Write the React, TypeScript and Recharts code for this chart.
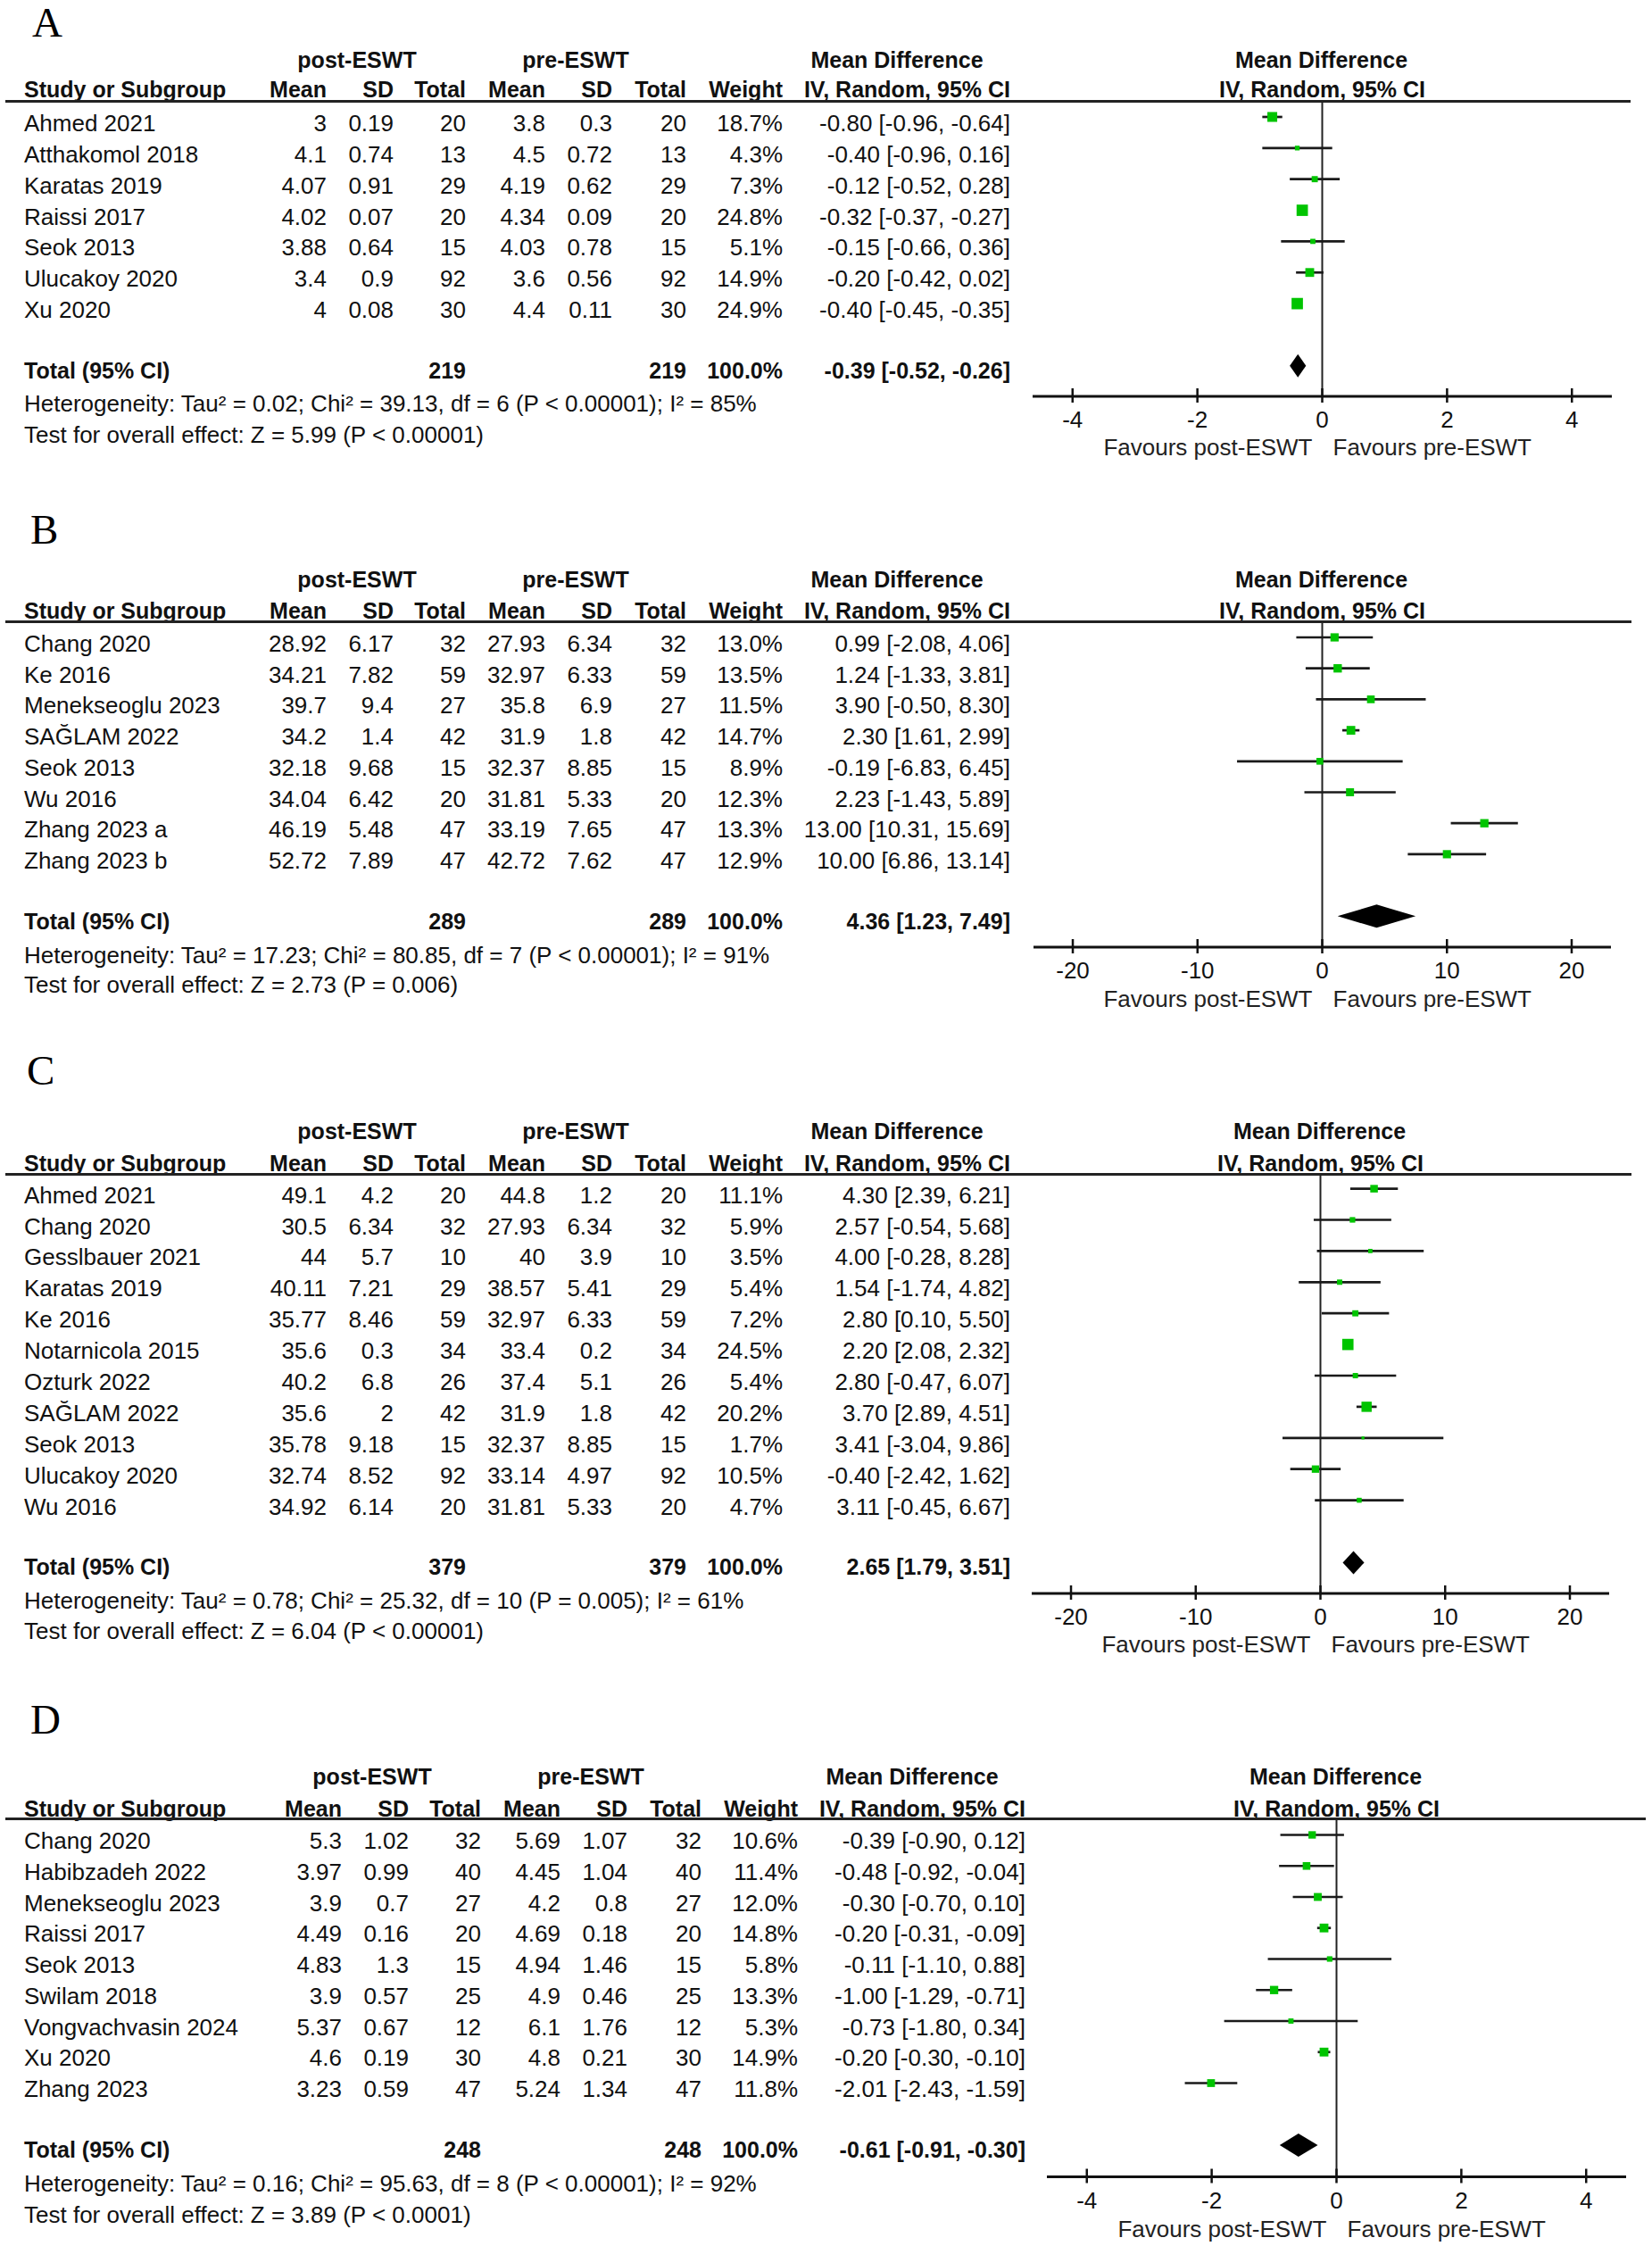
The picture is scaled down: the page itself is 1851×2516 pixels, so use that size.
import React from 'react';
import { ComposedChart, Scatter, ErrorBar, XAxis, YAxis, ReferenceLine, ReferenceArea } from 'recharts';

const FONT = '"Liberation Sans", Arial, Helvetica, sans-serif';
const SERIF = '"Liberation Serif", "Times New Roman", serif';
const GREEN = '#00C400';
const INK = '#111111';

// ---------------- Panel A ----------------
const studiesA = ['Ahmed 2021', 'Atthakomol 2018', 'Karatas 2019', 'Raissi 2017', 'Seok 2013', 'Ulucakoy 2020', 'Xu 2020'];
const postMeanA = [3, 4.1, 4.07, 4.02, 3.88, 3.4, 4];
const postSdA = [0.19, 0.74, 0.91, 0.07, 0.64, 0.9, 0.08];
const postNA = [20, 13, 29, 20, 15, 92, 30];
const preMeanA = [3.8, 4.5, 4.19, 4.34, 4.03, 3.6, 4.4];
const preSdA = [0.3, 0.72, 0.62, 0.09, 0.78, 0.56, 0.11];
const preNA = [20, 13, 29, 20, 15, 92, 30];
const weightA = [18.7, 4.3, 7.3, 24.8, 5.1, 14.9, 24.9];
const mdA = [-0.8, -0.4, -0.12, -0.32, -0.15, -0.2, -0.4];
const loA = [-0.96, -0.96, -0.52, -0.37, -0.66, -0.42, -0.45];
const hiA = [-0.64, 0.16, 0.28, -0.27, 0.36, 0.02, -0.35];
const totalA = { postN: 219, preN: 219, md: -0.39, lo: -0.52, hi: -0.26 };
const hetA = 'Heterogeneity: Tau² = 0.02; Chi² = 39.13, df = 6 (P < 0.00001); I² = 85%';
const testA = 'Test for overall effect: Z = 5.99 (P < 0.00001)';
const ticksA = [-4, -2, 0, 2, 4];

// ---------------- Panel B ----------------
const studiesB = ['Chang 2020', 'Ke 2016', 'Menekseoglu 2023', 'SAĞLAM 2022', 'Seok 2013', 'Wu 2016', 'Zhang 2023 a', 'Zhang 2023 b'];
const postMeanB = [28.92, 34.21, 39.7, 34.2, 32.18, 34.04, 46.19, 52.72];
const postSdB = [6.17, 7.82, 9.4, 1.4, 9.68, 6.42, 5.48, 7.89];
const postNB = [32, 59, 27, 42, 15, 20, 47, 47];
const preMeanB = [27.93, 32.97, 35.8, 31.9, 32.37, 31.81, 33.19, 42.72];
const preSdB = [6.34, 6.33, 6.9, 1.8, 8.85, 5.33, 7.65, 7.62];
const preNB = [32, 59, 27, 42, 15, 20, 47, 47];
const weightB = [13.0, 13.5, 11.5, 14.7, 8.9, 12.3, 13.3, 12.9];
const mdB = [0.99, 1.24, 3.9, 2.3, -0.19, 2.23, 13.0, 10.0];
const loB = [-2.08, -1.33, -0.5, 1.61, -6.83, -1.43, 10.31, 6.86];
const hiB = [4.06, 3.81, 8.3, 2.99, 6.45, 5.89, 15.69, 13.14];
const totalB = { postN: 289, preN: 289, md: 4.36, lo: 1.23, hi: 7.49 };
const hetB = 'Heterogeneity: Tau² = 17.23; Chi² = 80.85, df = 7 (P < 0.00001); I² = 91%';
const testB = 'Test for overall effect: Z = 2.73 (P = 0.006)';
const ticksB = [-20, -10, 0, 10, 20];

// ---------------- Panel C ----------------
const studiesC = ['Ahmed 2021', 'Chang 2020', 'Gesslbauer 2021', 'Karatas 2019', 'Ke 2016', 'Notarnicola 2015', 'Ozturk 2022', 'SAĞLAM 2022', 'Seok 2013', 'Ulucakoy 2020', 'Wu 2016'];
const postMeanC = [49.1, 30.5, 44, 40.11, 35.77, 35.6, 40.2, 35.6, 35.78, 32.74, 34.92];
const postSdC = [4.2, 6.34, 5.7, 7.21, 8.46, 0.3, 6.8, 2, 9.18, 8.52, 6.14];
const postNC = [20, 32, 10, 29, 59, 34, 26, 42, 15, 92, 20];
const preMeanC = [44.8, 27.93, 40, 38.57, 32.97, 33.4, 37.4, 31.9, 32.37, 33.14, 31.81];
const preSdC = [1.2, 6.34, 3.9, 5.41, 6.33, 0.2, 5.1, 1.8, 8.85, 4.97, 5.33];
const preNC = [20, 32, 10, 29, 59, 34, 26, 42, 15, 92, 20];
const weightC = [11.1, 5.9, 3.5, 5.4, 7.2, 24.5, 5.4, 20.2, 1.7, 10.5, 4.7];
const mdC = [4.3, 2.57, 4.0, 1.54, 2.8, 2.2, 2.8, 3.7, 3.41, -0.4, 3.11];
const loC = [2.39, -0.54, -0.28, -1.74, 0.1, 2.08, -0.47, 2.89, -3.04, -2.42, -0.45];
const hiC = [6.21, 5.68, 8.28, 4.82, 5.5, 2.32, 6.07, 4.51, 9.86, 1.62, 6.67];
const totalC = { postN: 379, preN: 379, md: 2.65, lo: 1.79, hi: 3.51 };
const hetC = 'Heterogeneity: Tau² = 0.78; Chi² = 25.32, df = 10 (P = 0.005); I² = 61%';
const testC = 'Test for overall effect: Z = 6.04 (P < 0.00001)';
const ticksC = [-20, -10, 0, 10, 20];

// ---------------- Panel D ----------------
const studiesD = ['Chang 2020', 'Habibzadeh 2022', 'Menekseoglu 2023', 'Raissi 2017', 'Seok 2013', 'Swilam 2018', 'Vongvachvasin 2024', 'Xu 2020', 'Zhang 2023'];
const postMeanD = [5.3, 3.97, 3.9, 4.49, 4.83, 3.9, 5.37, 4.6, 3.23];
const postSdD = [1.02, 0.99, 0.7, 0.16, 1.3, 0.57, 0.67, 0.19, 0.59];
const postND = [32, 40, 27, 20, 15, 25, 12, 30, 47];
const preMeanD = [5.69, 4.45, 4.2, 4.69, 4.94, 4.9, 6.1, 4.8, 5.24];
const preSdD = [1.07, 1.04, 0.8, 0.18, 1.46, 0.46, 1.76, 0.21, 1.34];
const preND = [32, 40, 27, 20, 15, 25, 12, 30, 47];
const weightD = [10.6, 11.4, 12.0, 14.8, 5.8, 13.3, 5.3, 14.9, 11.8];
const mdD = [-0.39, -0.48, -0.3, -0.2, -0.11, -1.0, -0.73, -0.2, -2.01];
const loD = [-0.9, -0.92, -0.7, -0.31, -1.1, -1.29, -1.8, -0.3, -2.43];
const hiD = [0.12, -0.04, 0.1, -0.09, 0.88, -0.71, 0.34, -0.1, -1.59];
const totalD = { postN: 248, preN: 248, md: -0.61, lo: -0.91, hi: -0.3 };
const hetD = 'Heterogeneity: Tau² = 0.16; Chi² = 95.63, df = 8 (P < 0.00001); I² = 92%';
const testD = 'Test for overall effect: Z = 3.89 (P < 0.0001)';
const ticksD = [-4, -2, 0, 2, 4];

// ---------------- Layout (pixels) ----------------
const COLS = [366, 441, 522, 611, 686, 769, 877, 1132];
const STUDY_X = 27;
const POST_HDR_X = 400;
const PRE_HDR_X = 645;
const MD_HDR_X = 1005;
const MARK_SHIFT = 7;
const BOLD_SIZE = 25;

const layoutA = { label: 'A', labelX: 36, labelY: 25, hdr1: 67, hdr2: 100, lineY: 113, row0: 138, step: 34.85, totalY: 415, hetY: 452, testY: 487, axisY: 444, favY: 501, dx: 0, plotLeft: 1157, plotRight: 1806, half: 4.64, ruleRight: 1827 };
const layoutB = { label: 'B', labelX: 34, labelY: 593, hdr1: 649, hdr2: 684, lineY: 696, row0: 721, step: 34.7, totalY: 1032, hetY: 1070, testY: 1103, axisY: 1061, favY: 1119, dx: 0, plotLeft: 1158, plotRight: 1805, half: 23.15, ruleRight: 1828 };
const layoutC = { label: 'C', labelX: 30, labelY: 1199, hdr1: 1267, hdr2: 1303, lineY: 1315, row0: 1338.6, step: 34.9, totalY: 1755, hetY: 1793, testY: 1827, axisY: 1785, favY: 1842, dx: 0, plotLeft: 1156, plotRight: 1803, half: 23.15, ruleRight: 1828 };
const layoutD = { label: 'D', labelX: 34, labelY: 1925.5, hdr1: 1990, hdr2: 2026, lineY: 2037.5, row0: 2062, step: 34.75, totalY: 2408, hetY: 2446, testY: 2481, axisY: 2438, favY: 2497, dx: 17, plotLeft: 1173, plotRight: 1822, half: 4.64, ruleRight: 1844 };

const panels = [
  { layout: layoutA, studies: studiesA, postMean: postMeanA, postSd: postSdA, postN: postNA, preMean: preMeanA, preSd: preSdA, preN: preNA, weight: weightA, md: mdA, lo: loA, hi: hiA, total: totalA, het: hetA, test: testA, ticks: ticksA },
  { layout: layoutB, studies: studiesB, postMean: postMeanB, postSd: postSdB, postN: postNB, preMean: preMeanB, preSd: preSdB, preN: preNB, weight: weightB, md: mdB, lo: loB, hi: hiB, total: totalB, het: hetB, test: testB, ticks: ticksB },
  { layout: layoutC, studies: studiesC, postMean: postMeanC, postSd: postSdC, postN: postNC, preMean: preMeanC, preSd: preSdC, preN: preNC, weight: weightC, md: mdC, lo: loC, hi: hiC, total: totalC, het: hetC, test: testC, ticks: ticksC },
  { layout: layoutD, studies: studiesD, postMean: postMeanD, postSd: postSdD, postN: postND, preMean: preMeanD, preSd: preSdD, preN: preND, weight: weightD, md: mdD, lo: loD, hi: hiD, total: totalD, het: hetD, test: testD, ticks: ticksD },
];

const f2 = (v: number) => v.toFixed(2);
const ciText = (md: number, lo: number, hi: number) => `${f2(md)} [${f2(lo)}, ${f2(hi)}]`;

function Txt({ x, y, children, align = 'left', bold = false, size, lh, family = FONT, color = INK }: any) {
  const tx = align === 'left' ? '0' : align === 'right' ? '-100%' : '-50%';
  const fs = size ?? (bold ? BOLD_SIZE : 26);
  const lineH = lh ?? fs;
  return (
    <div
      style={{
        position: 'absolute',
        left: x,
        top: y,
        transform: `translate(${tx}, -50%)`,
        fontSize: fs,
        lineHeight: `${lineH}px`,
        fontWeight: bold ? 700 : 400,
        fontFamily: family,
        color,
        whiteSpace: 'nowrap',
      }}
    >
      {children}
    </div>
  );
}

const AxisTick = (props: any) => {
  const { x, y, payload } = props;
  return (
    <g>
      <line x1={x} x2={x} y1={y - 9} y2={y + 7} stroke={INK} strokeWidth={2.5} />
      <text x={x} y={y + 26} textAnchor="middle" dominantBaseline="central" fontFamily={FONT} fontSize={26} fill={INK}>
        {payload.value}
      </text>
    </g>
  );
};

const makeSquare = (props: any) => {
  const { cx, cy, payload } = props;
  if (cx == null || cy == null) return <g />;
  const s = 2.55 * Math.sqrt(payload.w);
  return <rect x={cx - s / 2} y={cy - s / 2} width={s} height={s} fill={GREEN} />;
};

const makeDiamond = (md: number, lo: number, hi: number) => (props: any) => {
  const { x, y, width, height } = props;
  const xm = x + (width * (md - lo)) / (hi - lo);
  const ym = y + height / 2;
  return <polygon points={`${x},${ym} ${xm},${y} ${x + width},${ym} ${xm},${y + height}`} fill="#000" />;
};

function Panel({ p }: any) {
  const L = p.layout;
  const cols = COLS.map((c) => c + L.dx);
  const n = p.studies.length;
  const rowY = (i: number) => L.row0 + i * L.step;
  const plotW = L.plotRight - L.plotLeft;
  const zeroX = L.plotLeft + (plotW * (0 + L.half)) / (2 * L.half);
  const markTop = L.row0 - MARK_SHIFT;
  const vTop = (L.lineY - markTop) / L.step;
  const vBot = (L.axisY - markTop) / L.step;
  const xAxisH = 60;
  const chartH = L.axisY - L.lineY + xAxisH;
  const totalV = n + 1;
  const dh = 13 / L.step;

  const data = p.studies.map((s: string, i: number) => ({
    name: s,
    x: p.md[i],
    y: i,
    err: [p.md[i] - p.lo[i], p.hi[i] - p.md[i]],
    w: p.weight[i],
  }));

  return (
    <>
      <Txt x={L.labelX} y={L.labelY} size={47} lh={34} family={SERIF} color="#000">{L.label}</Txt>

      <Txt x={POST_HDR_X + L.dx} y={L.hdr1} align="center" bold>post-ESWT</Txt>
      <Txt x={PRE_HDR_X + L.dx} y={L.hdr1} align="center" bold>pre-ESWT</Txt>
      <Txt x={MD_HDR_X + L.dx} y={L.hdr1} align="center" bold>Mean Difference</Txt>
      <Txt x={zeroX - 1} y={L.hdr1} align="center" bold>Mean Difference</Txt>

      <Txt x={STUDY_X} y={L.hdr2} bold>Study or Subgroup</Txt>
      {['Mean', 'SD', 'Total', 'Mean', 'SD', 'Total', 'Weight', 'IV, Random, 95% CI'].map((h, k) => (
        <Txt key={k} x={cols[k]} y={L.hdr2} align="right" bold>{h}</Txt>
      ))}
      <Txt x={zeroX} y={L.hdr2} align="center" bold>IV, Random, 95% CI</Txt>

      <div style={{ position: 'absolute', left: 6, top: L.lineY - 1.5, width: L.ruleRight - 6, height: 3, background: '#222' }} />

      {p.studies.map((s: string, i: number) => {
        const y = rowY(i);
        const cells = [
          String(p.postMean[i]),
          String(p.postSd[i]),
          String(p.postN[i]),
          String(p.preMean[i]),
          String(p.preSd[i]),
          String(p.preN[i]),
          `${p.weight[i].toFixed(1)}%`,
          ciText(p.md[i], p.lo[i], p.hi[i]),
        ];
        return (
          <React.Fragment key={s}>
            <Txt x={STUDY_X} y={y}>{s}</Txt>
            {cells.map((c, k) => (
              <Txt key={k} x={cols[k]} y={y} align="right">{c}</Txt>
            ))}
          </React.Fragment>
        );
      })}

      <Txt x={STUDY_X} y={L.totalY} bold>Total (95% CI)</Txt>
      <Txt x={cols[2]} y={L.totalY} align="right" bold>{String(p.total.postN)}</Txt>
      <Txt x={cols[5]} y={L.totalY} align="right" bold>{String(p.total.preN)}</Txt>
      <Txt x={cols[6]} y={L.totalY} align="right" bold>100.0%</Txt>
      <Txt x={cols[7]} y={L.totalY} align="right" bold>{ciText(p.total.md, p.total.lo, p.total.hi)}</Txt>

      <Txt x={STUDY_X} y={L.hetY}>{p.het}</Txt>
      <Txt x={STUDY_X} y={L.testY}>{p.test}</Txt>

      <div style={{ position: 'absolute', left: 0, top: L.lineY }}>
        <ComposedChart
          width={1851}
          height={chartH}
          margin={{ top: 0, right: 1851 - L.plotRight, bottom: 0, left: L.plotLeft }}
        >
          <XAxis
            type="number"
            dataKey="x"
            domain={[-L.half, L.half]}
            ticks={p.ticks}
            interval={0}
            allowDataOverflow
            height={xAxisH}
            tickSize={0}
            tickMargin={0}
            tickLine={false}
            axisLine={{ stroke: INK, strokeWidth: 3 }}
            tick={AxisTick}
          />
          <YAxis type="number" dataKey="y" domain={[vTop, vBot]} reversed hide width={0} allowDataOverflow />
          <ReferenceLine x={0} stroke="#222" strokeWidth={2} ifOverflow="visible" />
          <Scatter data={data} isAnimationActive={false} shape={makeSquare}>
            <ErrorBar dataKey="err" direction="x" width={0} stroke="#1a1a1a" strokeWidth={2.7} isAnimationActive={false} />
          </Scatter>
          <ReferenceArea
            x1={p.total.lo}
            x2={p.total.hi}
            y1={totalV - dh}
            y2={totalV + dh}
            ifOverflow="visible"
            shape={makeDiamond(p.total.md, p.total.lo, p.total.hi)}
          />
        </ComposedChart>
      </div>

      <Txt x={zeroX - 11} y={L.favY} align="right" color="#222">Favours post-ESWT</Txt>
      <Txt x={zeroX + 12} y={L.favY} color="#222">Favours pre-ESWT</Txt>
    </>
  );
}

export default function App() {
  return (
    <div
      style={{
        position: 'absolute',
        left: 0,
        top: 0,
        width: 1851,
        height: 2516,
        background: '#ffffff',
        overflow: 'hidden',
        fontFamily: FONT,
      }}
    >
      {panels.map((p) => (
        <Panel key={p.layout.label} p={p} />
      ))}
    </div>
  );
}
